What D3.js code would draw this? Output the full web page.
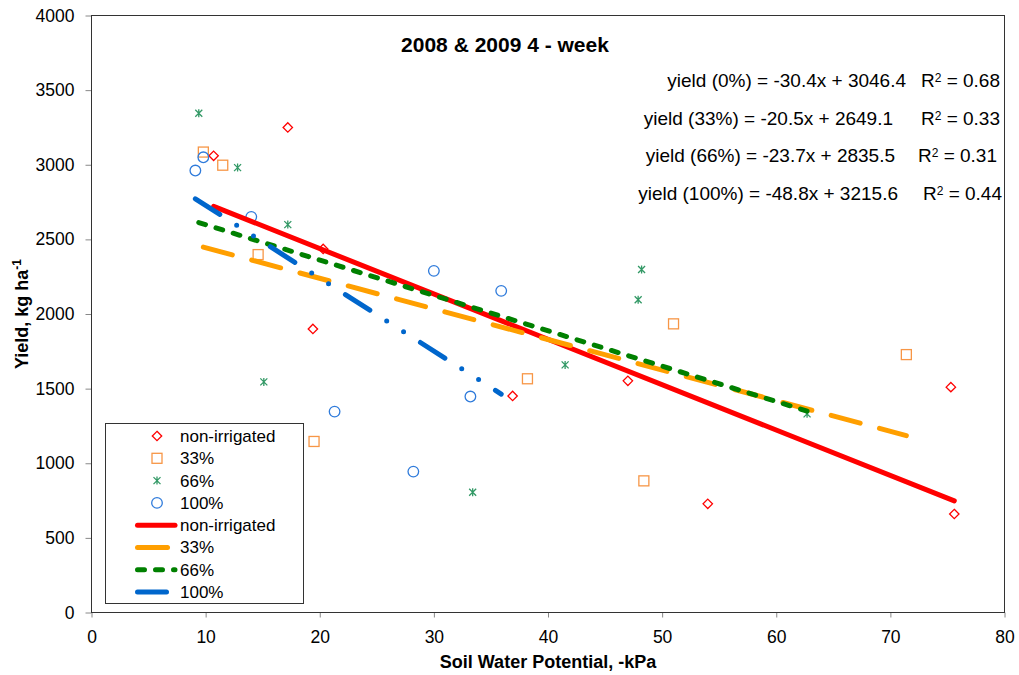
<!DOCTYPE html>
<html>
<head>
<meta charset="utf-8">
<script src="https://cdn.jsdelivr.net/npm/d3@7"></script>
<style>
    body { margin: 0; background: #fff; }
    svg { font-family: "Liberation Sans", Arial, sans-serif; }
    .axis text { font-size: 17.5px; fill: #000; }
    .axis line { stroke: #888; }
    .axis .domain { display: none; }
    .legend text { font-size: 17px; }
    .eq { font-size: 19px; }
</style>
</head>
<body>
<svg id="chart" width="1019" height="675"></svg>
<script>
    // series labels
    const seriesNames = ['non-irrigated', '33%', '66%', '100%'];
    const eqNames = ['0%', '33%', '66%', '100%'];

    // soil water potential (-kPa) and yield (kg/ha)
    const nonIrrX = [10.7, 17.2, 19.4, 20.3, 36.9, 47.0, 54.0, 75.3, 75.6];
    const nonIrrY = [3060, 3250, 1900, 2436, 1451, 1552, 728, 1510, 660];
    const p33X = [9.8, 11.5, 14.6, 19.5, 38.2, 48.4, 51.0, 71.4];
    const p33Y = [3085, 2997, 2398, 1146, 1566, 882, 1934, 1728];
    const p66X = [9.4, 12.8, 15.1, 17.2, 33.4, 41.5, 47.9, 48.2, 62.7];
    const p66Y = [3345, 2981, 1545, 2599, 806, 1659, 2096, 2298, 1331];
    const p100X = [9.1, 9.8, 14.0, 21.3, 28.2, 30.0, 33.2, 35.9];
    const p100Y = [2961, 3050, 2651, 1346, 944, 2289, 1447, 2155];

    // trendline equations as printed on the chart
    const slopes = [-30.4, -20.5, -23.7, -48.8];
    const intercepts = [3046.4, 2649.1, 2835.5, 3215.6];
    const r2 = [0.68, 0.33, 0.31, 0.44];

    const xTicks = [0, 10, 20, 30, 40, 50, 60, 70, 80];
    const yTicks = [0, 500, 1000, 1500, 2000, 2500, 3000, 3500, 4000];

    const seriesX = [nonIrrX, p33X, p66X, p100X];
    const seriesY = [nonIrrY, p33Y, p66Y, p100Y];

    const markerColors = ['#FF0000', '#F79646', '#339966', '#2F7BDB'];
    const lineColors = ['#FF0000', '#FF9F00', '#008000', '#0066CC'];
    const dashes = [null, '30,20', '7,11', '29,20,0,20,0,20'];

    const plot = {left: 91.5, right: 1004.5, top: 15.5, bottom: 612.5};

    const svg = d3.select('#chart');
    const x = d3.scaleLinear().domain([0, 80]).range([plot.left, plot.right]);
    const y = d3.scaleLinear().domain([0, 4000]).range([plot.bottom, plot.top]);

    svg.append('g').attr('class', 'x axis')
        .attr('transform', 'translate(0,' + plot.bottom + ')')
        .call(d3.axisBottom(x).tickValues(xTicks).tickFormat(d3.format('d')).tickSize(5).tickPadding(13));
    svg.append('g').attr('class', 'y axis')
        .attr('transform', 'translate(' + plot.left + ',0)')
        .call(d3.axisLeft(y).tickValues(yTicks).tickFormat(d3.format('d')).tickSize(6).tickPadding(11));

    svg.append('rect')
        .attr('x', plot.left).attr('y', plot.top)
        .attr('width', plot.right - plot.left).attr('height', plot.bottom - plot.top)
        .attr('fill', 'none').attr('stroke', '#333');

    // marker shapes, drawn centred at 0,0
    function drawMarker(g, i) {
        const c = markerColors[i];
        if (i === 0) {
            g.append('path').attr('d', 'M0,-4.7L4.7,0L0,4.7L-4.7,0Z')
                .attr('fill', 'none').attr('stroke', c).attr('stroke-width', 1.3);
        } else if (i === 1) {
            g.append('rect').attr('x', -5).attr('y', -5).attr('width', 10).attr('height', 10)
                .attr('fill', 'none').attr('stroke', c).attr('stroke-width', 1.3);
        } else if (i === 2) {
            g.append('path').attr('d', 'M-3.5,-3.5L3.5,3.5M3.5,-3.5L-3.5,3.5M0,-4L0,4')
                .attr('fill', 'none').attr('stroke', c).attr('stroke-width', 1.3);
        } else {
            g.append('circle').attr('r', 5.3)
                .attr('fill', 'none').attr('stroke', c).attr('stroke-width', 1.3);
        }
    }

    seriesX.forEach(function(xs, i) {
        const pts = xs.map(function(v, j) { return [v, seriesY[i][j]]; });
        svg.append('g').attr('class', 'points-' + i)
            .selectAll('g').data(pts).enter()
            .append('g')
                .attr('transform', function(d) { return 'translate(' + x(d[0]) + ',' + y(d[1]) + ')'; })
                .each(function() { drawMarker(d3.select(this), i); });
    });

    // trendlines over each series' x range
    seriesX.forEach(function(xs, i) {
        const ext = d3.extent(xs);
        const line = svg.append('line')
            .attr('x1', x(ext[0])).attr('y1', y(slopes[i] * ext[0] + intercepts[i]))
            .attr('x2', x(ext[1])).attr('y2', y(slopes[i] * ext[1] + intercepts[i]))
            .attr('stroke', lineColors[i]).attr('stroke-width', 5)
            .attr('stroke-linecap', 'round');
        if (dashes[i]) line.attr('stroke-dasharray', dashes[i]);
    });

    // equations
    const eqEnd = [906, 893, 895, 898];
    const r2End = [1000, 1000, 997, 1002];
    const eqY = [87, 125, 162, 200];
    eqNames.forEach(function(n, i) {
        svg.append('text').attr('class', 'eq')
            .attr('x', eqEnd[i]).attr('y', eqY[i]).attr('text-anchor', 'end')
            .text('yield (' + n + ') = ' + slopes[i].toFixed(1) + 'x + ' + intercepts[i].toFixed(1));
        const t = svg.append('text').attr('class', 'eq')
            .attr('x', r2End[i]).attr('y', eqY[i]).attr('text-anchor', 'end');
        t.append('tspan').text('R');
        t.append('tspan').attr('dy', -5).attr('font-size', '12px').text('2');
        t.append('tspan').attr('dy', 5).text(' = ' + r2[i].toFixed(2));
    });

    svg.append('text')
        .attr('x', 505).attr('y', 52).attr('text-anchor', 'middle')
        .attr('font-size', '21px').attr('font-weight', 'bold')
        .text('2008 & 2009 4 - week');

    svg.append('text')
        .attr('x', (plot.left + plot.right) / 2).attr('y', 668).attr('text-anchor', 'middle')
        .attr('font-size', '18px').attr('font-weight', 'bold')
        .text('Soil Water Potential, -kPa');

    const yt = svg.append('text')
        .attr('transform', 'translate(28,' + ((plot.top + plot.bottom) / 2) + ') rotate(-90)')
        .attr('text-anchor', 'middle')
        .attr('font-size', '18px').attr('font-weight', 'bold');
    yt.append('tspan').text('Yield, kg ha');
    yt.append('tspan').attr('dy', -7).attr('font-size', '12px').text('-1');

    // legend
    const legend = svg.append('g').attr('class', 'legend');
    legend.append('rect')
        .attr('x', 105.5).attr('y', 423.5).attr('width', 198).attr('height', 180)
        .attr('fill', '#fff').attr('stroke', '#333');
    const rowY = function(k) { return 436 + k * 22.3; };
    seriesNames.forEach(function(n, i) {
        const g = legend.append('g').attr('transform', 'translate(157,' + rowY(i) + ')');
        drawMarker(g, i);
        legend.append('text').attr('x', 180).attr('y', rowY(i)).attr('dy', '0.35em').text(n);
    });
    seriesNames.forEach(function(n, i) {
        const ly = rowY(i + 4);
        const l = legend.append('line')
            .attr('x1', 137.5).attr('x2', 175).attr('y1', ly).attr('y2', ly)
            .attr('stroke', lineColors[i]).attr('stroke-width', 5)
            .attr('stroke-linecap', 'round');
        if (dashes[i]) l.attr('stroke-dasharray', dashes[i]);
        legend.append('text').attr('x', 180).attr('y', ly).attr('dy', '0.35em').text(n);
    });
</script>
</body>
</html>
